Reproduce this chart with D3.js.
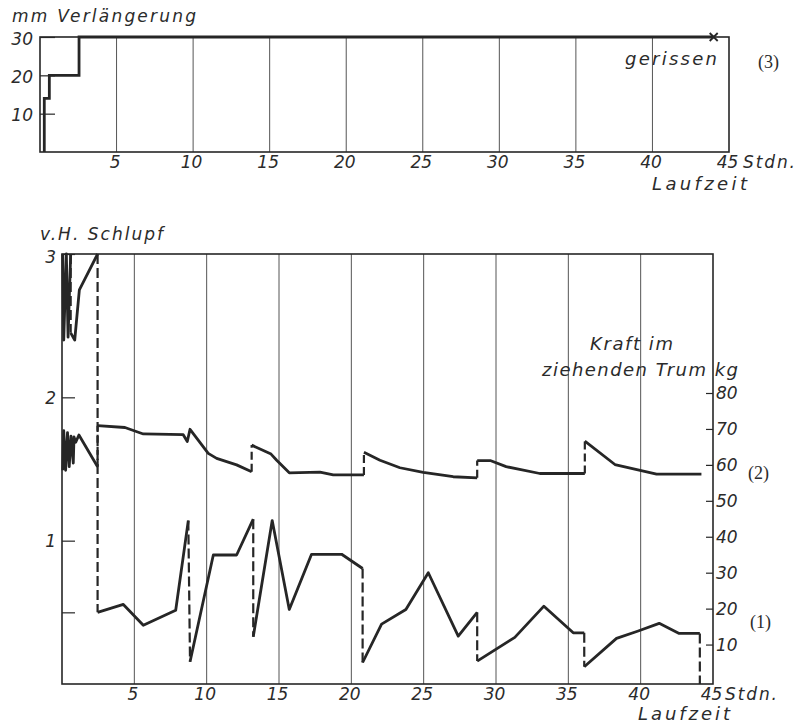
<!DOCTYPE html>
<html>
<head>
<meta charset="utf-8">
<script src="https://cdn.jsdelivr.net/npm/d3@7/dist/d3.min.js"></script>
<style>
  body { margin: 0; background: #fff; }
  text { font-family: "DejaVu Sans", sans-serif; font-style: italic; fill: #2b2b2b; }
  text.serif { font-family: "Liberation Serif", serif; font-style: normal; }
</style>
</head>
<body>
<div class="canvas"></div>
<script>
// hour ticks (both charts)
const hourTicks = [5, 10, 15, 20, 25, 30, 35, 40, 45];

// (3) elongation in mm
const elongHours = [0.28, 0.28, 0.61, 2.55, 44];
const elongMm = [0, 14, 20, 30, 30];
const elongTicks = [10, 20, 30];

// (1) slip in v.H. -- jump = 1 means the belt was shortened (dashed)
const slipHours = [0.05, 0.12, 0.3, 0.42, 0.6, 0.6, 0.88, 1.2, 2.46, 2.46, 4.24, 5.62, 7.86, 8.73, 8.85,
  10.46, 12.07, 13.22, 13.22, 14.53, 15.71, 17.25, 19.33, 20.78, 20.78, 22.09, 23.77, 25.32, 27.39,
  28.7, 28.7, 31.3, 33.31, 35.34, 36.1, 36.1, 38.33, 39.83, 41.28, 42.66, 44.09, 44.09];
const slipValues = [3.0, 2.4, 3.0, 2.42, 3.0, 2.45, 2.4, 2.75, 3.0, 0.5, 0.555, 0.41, 0.515, 1.14, 0.155,
  0.9, 0.9, 1.15, 0.33, 1.14, 0.52, 0.905, 0.905, 0.806, 0.15, 0.418, 0.52, 0.776, 0.334,
  0.5, 0.16, 0.325, 0.543, 0.357, 0.357, 0.12, 0.318, 0.37, 0.423, 0.353, 0.353, 0.0];
const slipJump = [0, 0, 0, 0, 0, 1, 0, 0, 0, 1, 0, 0, 0, 0, 1,
  0, 0, 0, 1, 0, 0, 0, 0, 0, 1, 0, 0, 0, 0,
  0, 1, 0, 0, 0, 0, 1, 0, 0, 0, 0, 0, 1];
const slipTicks = [0.5, 1, 2, 3];

// (2) force in the pulling strand, kg
const forceHours = [0.05, 0.12, 0.25, 0.38, 0.5, 0.62, 0.78, 0.83, 0.95, 1.17, 2.46, 2.46, 4.35, 5.62, 8.38,
  8.66, 8.85, 10.11, 10.69, 12.07, 13.11, 13.11, 14.45, 14.84, 15.71, 17.83, 18.75, 20.87, 20.87,
  21.98, 23.36, 24.97, 27.04, 28.7, 28.7, 29.6, 30.7, 33.03, 36.14, 36.14, 38.22, 41.1, 44.2];
const forceKg = [58.5, 69.5, 58.5, 69, 59.5, 68, 60.5, 67.8, 66.3, 68.3, 59.5, 70.9, 70.4, 68.6, 68.4,
  66.5, 69.9, 63.2, 61.8, 60.0, 58.1, 65.5, 63.0, 61.3, 57.8, 58.0, 57.2, 57.2, 63.5,
  61.3, 59.2, 57.9, 56.7, 56.4, 61.2, 61.2, 59.5, 57.6, 57.6, 66.6, 60.1, 57.4, 57.4];
const forceJump = [0, 0, 0, 0, 0, 0, 0, 0, 0, 0, 0, 1, 0, 0, 0,
  0, 0, 0, 0, 0, 0, 1, 0, 0, 0, 0, 0, 0, 1,
  0, 0, 0, 0, 0, 1, 0, 0, 0, 0, 1, 0, 0, 0];
const forceTicks = [10, 20, 30, 40, 50, 60, 70, 80];

const width = 797, height = 727;
const ink = '#262626';

const svg = d3.select('.canvas')
    .append('svg')
    .attr('width', width)
    .attr('height', height);

// scales
const xTop = d3.scaleLinear().domain([0, 45]).range([40, 729]);
const yTop = d3.scaleLinear().domain([0, 30]).range([152, 37]);
const xBot = d3.scaleLinear().domain([0, 45]).range([62, 713]);
const ySlip = d3.scaleLinear().domain([0, 3]).range([684, 254]);
const yForce = d3.scaleLinear().domain([0, 80]).range([680.5, 393]);

const styleTicks = g => {
    g.select('.domain').remove();
    g.selectAll('line').attr('stroke', ink).attr('stroke-width', 1.2);
    g.selectAll('text')
        .attr('font-size', 17)
        .attr('font-family', '"DejaVu Sans", sans-serif')
        .attr('fill', '#2b2b2b');
};

// grid + frame
const gridFrame = (x, y, yDom) => {
    svg.append('g')
        .selectAll('line')
        .data(hourTicks.filter(h => h < 45))
        .enter()
        .append('line')
            .attr('x1', d => x(d)).attr('x2', d => x(d))
            .attr('y1', y(yDom[0])).attr('y2', y(yDom[1]))
            .attr('stroke', '#555').attr('stroke-width', 1);
    svg.append('rect')
        .attr('x', x(0)).attr('y', y(yDom[1]))
        .attr('width', x(45) - x(0)).attr('height', y(yDom[0]) - y(yDom[1]))
        .attr('fill', 'none').attr('stroke', ink).attr('stroke-width', 1.6);
};

gridFrame(xTop, yTop, [0, 30]);
gridFrame(xBot, ySlip, [0, 3]);

// x axes
const xAxisTop = d3.axisBottom(xTop).tickValues(hourTicks).tickSize(0).tickPadding(0);
svg.append('g').attr('transform', 'translate(0,152)').call(xAxisTop).call(styleTicks)
    .selectAll('text').attr('y', 16).attr('dy', 0).attr('x', -2);

const xAxisBot = d3.axisBottom(xBot).tickValues(hourTicks).tickSize(0).tickPadding(0);
svg.append('g').attr('transform', 'translate(0,684)').call(xAxisBot).call(styleTicks)
    .selectAll('text').attr('y', 16).attr('dy', 0).attr('x', -2);

// y axes
const yAxisTop = d3.axisLeft(yTop).tickValues(elongTicks).tickSizeInner(-15).tickSizeOuter(0).tickPadding(7);
svg.append('g').attr('transform', 'translate(40,0)').call(yAxisTop).call(styleTicks)
    .selectAll('text').attr('dy', '0.42em');

const yAxisSlip = d3.axisLeft(ySlip).tickValues(slipTicks).tickSizeInner(-13).tickSizeOuter(0).tickPadding(6)
    .tickFormat(d => d === 0.5 ? '' : d);
svg.append('g').attr('transform', 'translate(62,0)').call(yAxisSlip).call(styleTicks)
    .selectAll('text').attr('dy', d => d === 3 ? '0.48em' : '0.34em');

const yAxisForce = d3.axisRight(yForce).tickValues(forceTicks).tickSizeInner(-7).tickSizeOuter(0).tickPadding(3);
svg.append('g').attr('transform', 'translate(713,0)').call(yAxisForce).call(styleTicks);

// elongation step line
const elong = elongHours.map((h, i) => ({ h, v: elongMm[i] }));
svg.append('path')
    .attr('d', d3.line().x(d => xTop(d.h)).y(d => yTop(d.v)).curve(d3.curveStepAfter)(elong))
    .attr('fill', 'none').attr('stroke', ink).attr('stroke-width', 2.8);

// break marker
const last = elong[elong.length - 1];
const cx = xTop(last.h), cy = yTop(last.v);
svg.append('path')
    .attr('d', `M${cx - 4},${cy - 4}L${cx + 4},${cy + 4}M${cx - 4},${cy + 4}L${cx + 4},${cy - 4}`)
    .attr('stroke', ink).attr('stroke-width', 1.8);

// series with dashed jumps
const drawSeries = (hours, vals, jumps, x, y, dash) => {
    const pts = hours.map((h, i) => ({ h, v: vals[i] }));
    const line = d3.line().x(d => x(d.h)).y(d => y(d.v));
    const runs = [];
    const jumpsSeg = [];
    let run = [pts[0]];
    for (let i = 1; i < pts.length; i++) {
        if (jumps[i]) {
            runs.push(run);
            jumpsSeg.push([pts[i - 1], pts[i]]);
            run = [pts[i]];
        } else {
            run.push(pts[i]);
        }
    }
    runs.push(run);

    svg.append('g').selectAll('path')
        .data(runs.filter(r => r.length > 1))
        .enter()
        .append('path')
            .attr('d', line)
            .attr('fill', 'none').attr('stroke', ink)
            .attr('stroke-width', 2.8).attr('stroke-linejoin', 'round');

    svg.append('g').selectAll('path')
        .data(jumpsSeg)
        .enter()
        .append('path')
            .attr('d', line)
            .attr('fill', 'none').attr('stroke', ink)
            .attr('stroke-width', 2.2).attr('stroke-dasharray', dash);
};

drawSeries(slipHours, slipValues, slipJump, xBot, ySlip, '10,4');
drawSeries(forceHours, forceKg, forceJump, xBot, yForce, '8,4');

// labels
const label = (txt, x, y, len, size = 18, cls = null) => {
    const t = svg.append('text')
        .attr('x', x).attr('y', y)
        .attr('font-size', size)
        .text(txt);
    if (len) t.attr('textLength', len).attr('lengthAdjust', 'spacing');
    if (cls) t.attr('class', cls);
    return t;
};

label('mm Verlängerung', 12, 22, 184, 17);
label('Stdn.', 743, 168, 52, 17);
label('Laufzeit', 652, 190, 95);
label('gerissen', 625, 65, 92);
label('(3)', 758, 68, null, 18, 'serif');

label('v.H. Schlupf', 40, 240, 123, 17);
label('Stdn.', 725, 700, 52, 17);
label('Laufzeit', 638, 720, 92);
label('Kraft im', 590, 350, 83);
label('ziehenden Trum kg', 542, 376, 196);
label('(2)', 748, 479, null, 18, 'serif');
label('(1)', 750, 628, null, 18, 'serif');
</script>
</body>
</html>
